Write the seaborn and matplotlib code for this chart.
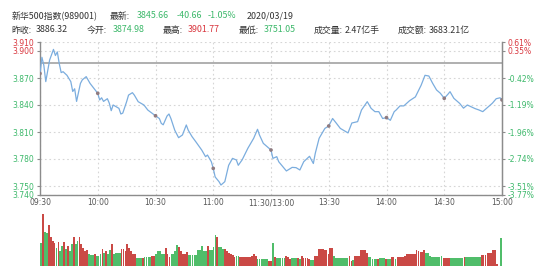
import matplotlib
matplotlib.use("Agg")
import matplotlib.pyplot as plt
import seaborn as sns
import pandas as pd

# ---------------- data ----------------
prev_close = 3886.32

price_minute = [0, 1, 2, 3, 5, 7, 8, 9, 10, 11,
                12, 14, 16, 17, 18, 19, 21, 22, 24, 26,
                28, 30, 31, 32, 33, 35, 36, 37, 38, 41,
                42, 43, 45, 46, 48, 49, 51, 54, 56, 60,
                62, 63, 64, 66, 67, 68, 70, 72, 74, 76,
                77, 79, 81, 84, 86, 87, 89, 90, 91, 93,
                94, 96, 98, 100, 102, 103, 105, 108, 109, 111,
                113, 114, 116, 120, 121, 123, 124, 128, 131, 133,
                135, 137, 140, 142, 143, 145, 148, 150, 152, 154,
                156, 160, 162, 165, 167, 170, 172, 174, 176, 178,
                180, 182, 184, 185, 187, 189, 192, 195, 198, 200,
                202, 204, 206, 208, 210, 212, 213, 215, 218, 220,
                222, 224, 226, 228, 230, 232, 235, 237, 239, 240]
price_value = [3874.98, 3893, 3884, 3866, 3890, 3901.77, 3895, 3899, 3886, 3876,
               3877, 3873, 3866, 3855, 3858, 3844, 3864, 3868, 3871.5, 3864,
               3858.5, 3853, 3845.6, 3848, 3844, 3847, 3842, 3833.7, 3840, 3836.3,
               3830, 3831, 3843.7, 3851, 3853.7, 3851, 3843.7, 3840, 3834.4, 3828,
               3825, 3819.6, 3818, 3827.8, 3830, 3825, 3812, 3803.7, 3806.7, 3817.8,
               3812, 3804.8, 3799, 3790, 3782.6, 3784.4, 3777, 3769.6, 3760, 3754.8,
               3751.05, 3754.8, 3773, 3780.7, 3778.9, 3773, 3779, 3792, 3795.6, 3803,
               3813, 3806.7, 3797.4, 3790, 3780.7, 3782.6, 3777, 3766.7, 3770.7, 3770.4,
               3767.8, 3777, 3783, 3775, 3786.3, 3803, 3814, 3816.7, 3825, 3819.6,
               3814, 3809, 3820, 3821.5, 3834.4, 3843.7, 3836.3, 3832.6, 3832.6, 3825,
               3826, 3823, 3832.6, 3834.4, 3839, 3839, 3844.8, 3849, 3862, 3873,
               3872.2, 3864, 3856.7, 3853, 3847.4, 3852.2, 3854.8, 3847.4, 3841.8, 3836.5,
               3840, 3838, 3836, 3834.5, 3832.6, 3836.3, 3842, 3847, 3848, 3845.66]

volume = [23, 52, 34, 33, 41, 29, 25, 23, 18, 24,
          15, 20, 24, 17, 20, 15, 22, 29, 22, 25,
          29, 22, 18, 15, 16, 12, 11, 11, 12, 10,
          10, 12, 17, 13, 15, 12, 16, 22, 12, 13,
          13, 13, 17, 17, 15, 22, 18, 15, 12, 12,
          8, 8, 8, 8, 9, 9, 9, 9, 10, 10,
          12, 15, 15, 12, 12, 18, 12, 9, 12, 12,
          15, 21, 19, 15, 12, 12, 14, 11, 11, 11,
          11, 11, 16, 16, 20, 15, 15, 20, 16, 16,
          19, 31, 29, 19, 19, 17, 17, 15, 13, 12,
          11, 9, 10, 10, 9, 9, 9, 9, 9, 9,
          10, 12, 10, 7, 7, 7, 7, 7, 7, 5,
          5, 23, 9, 8, 8, 8, 8, 8, 10, 9,
          7, 8, 8, 8, 8, 7, 10, 8, 8, 8,
          7, 6, 6, 10, 10, 17, 17, 17, 16, 16,
          12, 18, 18, 10, 8, 8, 8, 8, 8, 8,
          8, 10, 5, 6, 10, 10, 10, 16, 16, 16,
          13, 9, 9, 7, 7, 7, 7, 8, 8, 8,
          7, 7, 7, 9, 9, 7, 9, 9, 9, 9,
          10, 12, 12, 12, 12, 12, 16, 15, 14, 14,
          16, 13, 13, 10, 9, 9, 9, 9, 9, 10,
          8, 8, 8, 8, 8, 8, 8, 8, 8, 8,
          8, 9, 9, 9, 9, 9, 9, 9, 9, 9,
          11, 11, 11, 13, 13, 13, 16, 16, 2, 0,
          28]
volume_dir = ("grggrrrrgr" "ggrgrggrgg" "rrrrrgggrg" "ggrgrggrgg" "ggrrrrrrrr"
              "gggrggggrr" "gggggrrrgg" "ggrrrrrggg" "gggggggrgg" "ggrgggrrrr"
              "rrggrrrrrr" "rrrggggggr" "rgrgggggrr" "rgggrgrrrr" "rggrrrrrrr"
              "rrrggggggg" "grrgrrrrrr" "rgggggrggg" "rggrrgrrrr" "rrrrrrrrrr"
              "rggggggggg" "rrrrgggggg" "grgggggggg" "rrrrrrrrrg" "g")

x_ticks = [0, 30, 60, 90, 120, 150, 180, 210, 240]
x_labels = ["09:30", "10:00", "10:30", "11:00", "11:30/13:00",
            "13:30", "14:00", "14:30", "15:00"]
y_ticks = [3740, 3750, 3780, 3810, 3840, 3870, 3900, 3910]
y_labels = ["3.740", "3.750", "3.780", "3.810", "3.840", "3.870", "3.900", "3.910"]
pct_labels = ["-3.77%", "-3.51%", "-2.74%", "-1.96%", "-1.19%", "-0.42%",
              "0.35%", "0.61%"]

# header: (label, value, value colour, label x px, value x px, row)
header = [
    ("", "新华500指数(989001)", "#333333", 11.5, 11.5, 0),
    ("最新:", "3845.66", "#3cb86a", 110, 137, 0),
    ("", "-40.66", "#3cb86a", 177, 177, 0),
    ("", "-1.05%", "#3cb86a", 208, 208, 0),
    ("", "2020/03/19", "#333333", 247, 247, 0),
    ("昨收:", "3886.32", "#333333", 11.5, 36, 1),
    ("今开:", "3874.98", "#3cb86a", 87, 113, 1),
    ("最高:", "3901.77", "#d9363e", 163, 188, 1),
    ("最低:", "3751.05", "#3cb86a", 239, 264, 1),
    ("成交量:", "2.47亿手", "#333333", 314, 339, 1),
    ("成交额:", "3683.21亿", "#333333", 398, 425, 1),
]

# ---------------- style ----------------
sns.set_style("white")
plt.rcParams['font.family'] = ['Noto Sans CJK SC', 'DejaVu Sans']

RED = "#e0342f"
GREEN = "#3ecf60"
TXT_GREEN = "#3cb86a"
TXT_RED = "#d9363e"
DARK = "#333333"
AXC = "#8c8c8c"

W, H = 537, 279
fig = plt.figure(figsize=(W / 100, H / 100), dpi=100)


def fx(px):
    return px / W


def fy(py):
    return 1 - py / H


# main price axes
ax = fig.add_axes([fx(40), fy(195), fx(502) - fx(40), fy(42) - fy(195)])
df = pd.DataFrame({"minute": price_minute, "price": price_value})
sns.lineplot(data=df, x="minute", y="price", ax=ax, color="#7badde",
             linewidth=0.9, zorder=3)
marks = df[df["minute"] % 30 == 0]
sns.scatterplot(data=marks, x="minute", y="price", ax=ax, color="#8f7b80",
                s=7, edgecolor="none", zorder=4)
ax.axhline(prev_close, color="#9a9a9a", linewidth=1.1, zorder=2)

ax.set_xlim(0, 240)
ax.set_ylim(3740, 3910)
ax.set_xticks(x_ticks)
ax.set_xticklabels(x_labels, fontsize=5.5, color="#555555",
                   family=['DejaVu Sans'])
ax.set_yticks(y_ticks)
ax.set_yticklabels(y_labels, fontsize=5.5, family=['DejaVu Sans'])
for lbl, v in zip(ax.get_yticklabels(), y_ticks):
    lbl.set_color(TXT_RED if v > prev_close else TXT_GREEN)
ax.set_xlabel("")
ax.set_ylabel("")
ax.grid(True, linestyle=(0, (1.5, 2.5)), color="#d6d6d6", linewidth=0.8)
ax.spines["top"].set_visible(False)
for s in ["left", "right", "bottom"]:
    ax.spines[s].set_color(AXC)
    ax.spines[s].set_linewidth(1.0)
ax.tick_params(axis="y", length=2.5, width=0.8, color=AXC, pad=1.5)
ax.tick_params(axis="x", length=2, width=0.8, color=AXC, pad=0.5)

ax2 = ax.twinx()
ax2.set_ylim(3740, 3910)
ax2.set_yticks(y_ticks)
ax2.set_yticklabels(pct_labels, fontsize=5.5, family=['DejaVu Sans'])
for lbl, v in zip(ax2.get_yticklabels(), y_ticks):
    lbl.set_color(TXT_RED if v > prev_close else TXT_GREEN)
for s in ["top", "left", "bottom"]:
    ax2.spines[s].set_visible(False)
ax2.spines["right"].set_color(AXC)
ax2.tick_params(axis="y", length=2.5, width=0.8, color=AXC, pad=1.5)

# volume axes
axv = fig.add_axes([fx(40), fy(266), fx(502) - fx(40), fy(212) - fy(266)])
vdf = pd.DataFrame({"minute": list(range(len(volume))), "volume": volume,
                    "dir": list(volume_dir)})
sns.barplot(data=vdf, x="minute", y="volume", hue="dir",
            palette={"r": RED, "g": GREEN}, dodge=False, width=0.92,
            errorbar=None, legend=False, native_scale=True, ax=axv,
            linewidth=0)
axv.set_xlim(-0.6, 240.6)
axv.set_ylim(0, 54)
axv.axis("off")

# header text
fs = 6.4
rows_y = [fy(16), fy(30)]
fig.canvas.draw()
renderer = fig.canvas.get_renderer()
for lab, val, col, lx, vx, row in header:
    y = rows_y[row]
    start = vx
    if lab:
        t = fig.text(fx(lx), y, lab, fontsize=fs, color=DARK, ha="left",
                     va="center")
        bb = t.get_window_extent(renderer)
        start = max(vx, bb.x1 + 2)
    fig.text(fx(start), y, val, fontsize=fs, color=col, ha="left", va="center")

fig.savefig("out.png", dpi=100)
